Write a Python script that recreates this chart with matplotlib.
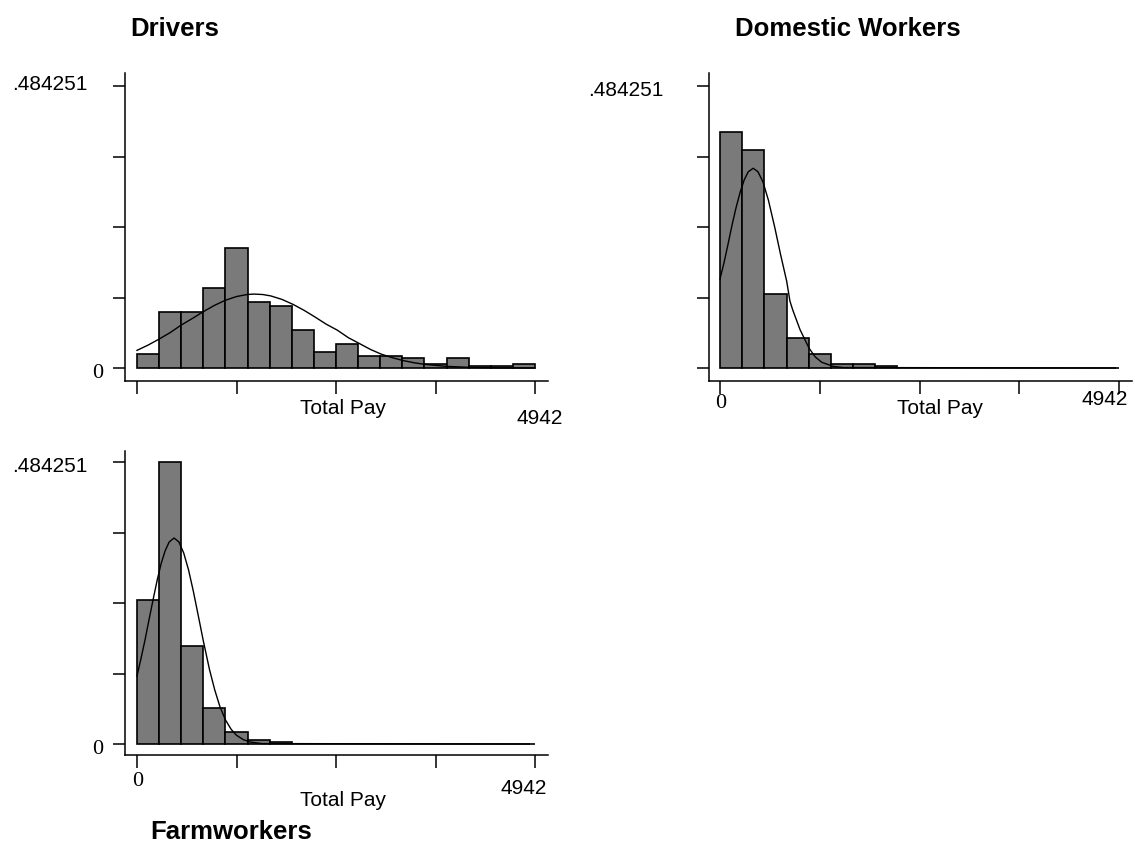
import numpy as np
import matplotlib
matplotlib.use("Agg")
import matplotlib.pyplot as plt

# ---------------- data ----------------
x_max = 4942
y_max = 0.484251
n_bins = 18

drivers_frac = [0.024, 0.096, 0.096, 0.137, 0.206, 0.113, 0.106, 0.065, 0.027,
                0.041, 0.021, 0.021, 0.017, 0.007, 0.017, 0.004, 0.004, 0.007]
drivers_curve_x = [0, 137, 275, 412, 546, 686, 817, 960, 1097, 1235, 1372, 1458,
                   1560, 1661, 1800, 1941, 2075, 2211, 2350, 2487, 2625, 2762,
                   2900, 3033, 3170, 3304, 3440, 3579, 3845, 4166, 4500, 4942]
drivers_curve_y = [0.0303, 0.0393, 0.0497, 0.0608, 0.0735, 0.0849, 0.0962, 0.1074,
                   0.1163, 0.1227, 0.1263, 0.1269, 0.1262, 0.1238, 0.1178, 0.1090,
                   0.0990, 0.0875, 0.0752, 0.0650, 0.0520, 0.0420, 0.0318, 0.0238,
                   0.0177, 0.0128, 0.0090, 0.0061, 0.0028, 0.0009, 0.0002, 0.0]

domestic_frac = [0.406, 0.3745, 0.127, 0.052, 0.0246, 0.0074, 0.0074, 0.004, 0,
                 0, 0, 0, 0, 0, 0, 0, 0, 0]
domestic_curve_x = [0, 50, 100, 150, 200, 250, 300, 350, 411, 470, 531, 600, 679,
                    750, 826, 866, 900, 991, 1103, 1180, 1259, 1402, 1527, 4897]
domestic_curve_y = [0.153, 0.181, 0.213, 0.246, 0.276, 0.302, 0.323, 0.337, 0.343,
                    0.337, 0.320, 0.288, 0.241, 0.195, 0.149, 0.115, 0.100, 0.066,
                    0.034, 0.019, 0.0099, 0.0028, 0.0008, 0.0]

farm_frac = [0.2473, 0.4843, 0.1677, 0.0618, 0.0206, 0.0069, 0.0034, 0, 0,
             0, 0, 0, 0, 0, 0, 0, 0, 0]
farm_curve_x = [0, 50, 100, 150, 200, 250, 300, 350, 400, 460, 520, 580, 640, 700,
                760, 825, 900, 965, 1030, 1100, 1170, 1235, 1320, 1400, 1551, 4870]
farm_curve_y = [0.117, 0.147, 0.179, 0.214, 0.248, 0.281, 0.310, 0.332, 0.347,
                0.3537, 0.347, 0.328, 0.299, 0.262, 0.221, 0.176, 0.128, 0.093,
                0.064, 0.041, 0.025, 0.015, 0.0075, 0.0035, 0.0007, 0.0]

titles = ["Drivers", "Domestic Workers", "Farmworkers"]
x_label = "Total Pay"
y_top_label = ".484251"

# ---------------- layout ----------------
W, H = 1135, 861
fig = plt.figure(figsize=(W / 100, H / 100), dpi=100)
SANS = ["Liberation Sans", "DejaVu Sans"]
SERIF = ["Liberation Serif", "DejaVu Serif"]
LBL = 15
TTL = 18.5


def fx(px):
    return px / W


def fy(py):
    return 1 - py / H


def ptext(x, y, s, ha="center", va="center", size=LBL, family=SANS, weight="normal"):
    fig.text(fx(x), fy(y), s, ha=ha, va=va, fontsize=size, family=family,
             fontweight=weight)


def make_panel(spine_l, spine_r, x0px, x1px, spine_b, spine_t, y0px, y1px,
               frac, cx, cy):
    ax = fig.add_axes([fx(spine_l), fy(spine_b), (spine_r - spine_l) / W,
                       (spine_b - spine_t) / H])
    kx = x_max / (x1px - x0px)
    ky = y_max / (y0px - y1px)
    ax.set_xlim(-(x0px - spine_l) * kx, x_max + (spine_r - x1px) * kx)
    ax.set_ylim(-(spine_b - y0px) * ky, y_max + (y1px - spine_t) * ky)
    edges = np.linspace(0, x_max, n_bins + 1)
    ax.bar(edges[:-1], frac, width=edges[1] - edges[0], align="edge",
           color="#7a7a7a", edgecolor="black", linewidth=1.2, zorder=2)
    ax.plot(cx, cy, color="black", lw=1.0, zorder=3)
    ax.set_xticks(np.linspace(0, x_max, 5))
    ax.set_yticks(np.linspace(0, y_max, 5))
    ax.tick_params(direction="out", length=9, width=1.1, labelleft=False,
                   labelbottom=False, color="black")
    for s in ["top", "right"]:
        ax.spines[s].set_visible(False)
    for s in ["left", "bottom"]:
        ax.spines[s].set_linewidth(1.1)
    ax.patch.set_alpha(0)
    return ax


# Drivers
make_panel(125, 548, 137, 535, 381, 73, 368, 86,
           drivers_frac, drivers_curve_x, drivers_curve_y)
ptext(88, 85, y_top_label, ha="right")
ptext(98, 373, "0", family=SERIF, size=16)
ptext(343, 408, x_label)
ptext(540, 418, str(x_max))
ptext(130, 29, titles[0], ha="left", size=TTL, weight="bold")

# Domestic Workers
make_panel(709, 1132, 720, 1119, 381, 73, 368, 86,
           domestic_frac, domestic_curve_x, domestic_curve_y)
ptext(663, 91, y_top_label, ha="right")
ptext(721, 404, "0", family=SERIF, size=16)
ptext(940, 408, x_label)
ptext(1105, 400, str(x_max))
ptext(735, 29, titles[1], ha="left", size=TTL, weight="bold")

# Farmworkers
make_panel(125, 548, 137, 535, 755, 451, 744, 462,
           farm_frac, farm_curve_x, farm_curve_y)
ptext(88, 467, y_top_label, ha="right")
ptext(98, 750, "0", family=SERIF, size=16)
ptext(138, 781, "0", family=SERIF, size=16)
ptext(343, 800, x_label)
ptext(524, 788, str(x_max))
ptext(150, 832, titles[2], ha="left", size=TTL, weight="bold")

fig.savefig("out.png", dpi=100)
